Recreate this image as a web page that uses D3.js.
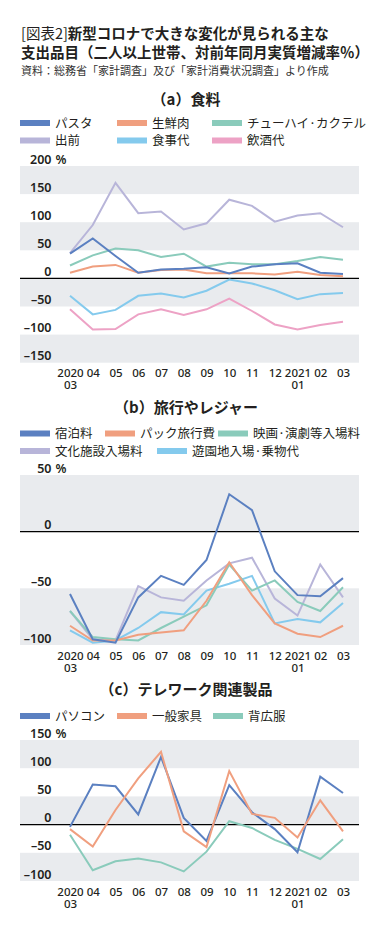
<!DOCTYPE html>
<html><head><meta charset="utf-8">
<script src="https://cdn.jsdelivr.net/npm/d3@7"></script>
<style>
html,body{margin:0;padding:0;background:#fff;}
svg{display:block;font-family:"Noto Sans CJK JP","Noto Sans",sans-serif;}
</style></head>
<body>
<script>
// ---- data ----
const months = ["2020\n03","04","05","06","07","08","09","10","11","12","2021\n01","02","03"];

// (a) 食料
const foodNames = ["パスタ","生鮮肉","チューハイ·カクテル","出前","食事代","飲酒代"];
const pasta    = [44, 71, 40, 10, 16, 17, 20, 9, 21, 25, 27, 10, 8];
const meat     = [10, 21, 24, 10, 15, 16, 9, 9, 9, 7, 12, 6, 4];
const chuhai   = [23, 41, 53, 50, 38, 44, 21, 28, 25, 25, 31, 38, 33];
const demae    = [45, 95, 170, 116, 119, 87, 98, 140, 129, 101, 112, 116, 91];
const shokuji  = [-31, -64, -56, -31, -27, -34, -22, -2, -9, -21, -37, -28, -26];
const inshu    = [-55, -91, -90, -64, -55, -65, -55, -36, -58, -82, -91, -83, -77];
const foodTicks = [200, 150, 100, 50, 0, -50, -100, -150];

// (b) 旅行やレジャー
const travelNames = ["宿泊料","パック旅行費","映画·演劇等入場料","文化施設入場料","遊園地入場·乗物代"];
const shukuhaku = [-55, -95, -98, -58, -39, -47, -25, 33, 19, -35, -56, -57, -41];
const pack      = [-83, -96, -96, -91, -89, -87, -61, -27, -56, -81, -90, -93, -83];
const eiga      = [-70, -93, -95, -96, -85, -75, -65, -29, -52, -43, -62, -70, -49];
const bunka     = [-70, -95, -96, -48, -58, -61, -43, -28, -23, -59, -74, -29, -58];
const yuenchi   = [-87, -98, -96, -85, -71, -73, -52, -46, -39, -81, -77, -80, -63];
const travelTicks = [50, 0, -50, -100];

// (c) テレワーク関連製品
const teleNames = ["パソコン","一般家具","背広服"];
const pc       = [-4, 71, 68, 18, 120, 12, -29, 70, 22, -8, -49, 85, 56];
const kagu     = [-8, -39, 26, 82, 129, -12, -40, 95, 19, 12, -23, 43, -12];
const sebiro   = [-18, -81, -65, -60, -67, -83, -48, 6, -6, -27, -43, -61, -26];
const teleTicks = [150, 100, 50, 0, -50, -100];

const colors = {blue:"#5b80c1", orange:"#f09f7f", green:"#8acbbb", purple:"#b8b5d9", lblue:"#84caed", pink:"#eda2c5"};

// ---- layout ----
const W = 378, H = 931;
const svg = d3.select("body").append("svg").attr("width", W).attr("height", H);

const t1 = svg.append("text").attr("x", 21).attr("y", 39).attr("font-size", 14.5).attr("fill", "#231f20");
t1.append("tspan").attr("font-weight", 400).text("[図表2]");
t1.append("tspan").attr("font-weight", 700).text("新型コロナで大きな変化が見られる主な");
svg.append("text").attr("x", 21).attr("y", 58).attr("font-size", 14.5).attr("font-weight", 700).attr("fill", "#231f20")
  .text("支出品目（二人以上世帯、対前年同月実質増減率％）");
svg.append("text").attr("x", 21).attr("y", 75).attr("font-size", 11).attr("fill", "#333")
  .text("資料：総務省「家計調査」及び「家計消費状況調査」より作成");

const x = d3.scalePoint().domain(months).range([70, 343]);

function panel(cfg) {
  const g = svg.append("g");
  g.append("text").attr("x", 186).attr("y", cfg.titleY).attr("text-anchor", "middle")
    .attr("font-size", 15).attr("font-weight", 700).attr("fill", "#231f20").text(cfg.title);
  // legend
  cfg.legend.forEach(l => {
    g.append("rect").attr("x", l.x).attr("y", l.y - 3).attr("width", 30).attr("height", 6).attr("fill", l.c);
    g.append("text").attr("x", l.x + 35).attr("y", l.y).attr("dy", "0.36em")
      .attr("font-size", 12.5).attr("fill", "#231f20").text(l.name);
  });
  const y = d3.scaleLinear().domain([cfg.ticks[cfg.ticks.length - 1], cfg.ticks[0]]).range([cfg.bottom, cfg.top]);
  // bands
  for (let i = 0; i < cfg.ticks.length - 1; i += 2) {
    g.append("rect").attr("x", 20).attr("width", 339)
      .attr("y", y(cfg.ticks[i])).attr("height", y(cfg.ticks[i + 1]) - y(cfg.ticks[i]))
      .attr("fill", "#e9ebee");
  }
  // y labels
  cfg.ticks.forEach((t, i) => {
    g.append("text").attr("x", 51.5).attr("y", y(t) - 2.5).attr("text-anchor", "end")
      .attr("font-family", "'Noto Sans',sans-serif").attr("font-size", 12.5).attr("font-weight", 600)
      .attr("fill", "#231f20").text(t < 0 ? "–" + Math.abs(t) : t);
    if (i === 0) g.append("text").attr("x", 55.5).attr("y", y(t) - 2.5)
      .attr("font-family", "'Noto Sans',sans-serif").attr("font-size", 12.5).attr("font-weight", 600)
      .attr("fill", "#231f20").text("%");
  });
  // zero line
  g.append("line").attr("x1", 20).attr("x2", 359).attr("y1", y(0)).attr("y2", y(0))
    .attr("stroke", "#000").attr("stroke-width", 1.3);
  // lines
  const line = d3.line().x((d, i) => x(months[i])).y(d => y(d));
  cfg.series.forEach(s => {
    g.append("path").datum(s.v).attr("d", line).attr("fill", "none")
      .attr("stroke", s.c).attr("stroke-width", 2).attr("stroke-linejoin", "miter");
  });
  // x axis labels
  const ax = g.append("g").attr("transform", `translate(0,${cfg.bottom})`)
    .call(d3.axisBottom(x).tickSize(0).tickFormat(""));
  ax.select(".domain").remove();
  ax.selectAll(".tick").each(function(d) {
    const parts = d.split("\n");
    parts.forEach((p, k) => d3.select(this).append("text").attr("text-anchor", "middle")
      .attr("font-family", "'Noto Sans',sans-serif").attr("font-size", 11.5).attr("font-weight", 500)
      .attr("fill", "#231f20").attr("x", 0).attr("y", 14.5 + k * 12).text(p));
  });
}

panel({
  title: "（a）食料", titleY: 105, top: 166, bottom: 362.7, ticks: foodTicks,
  legend: [
    {name: foodNames[0], c: colors.blue, x: 20, y: 123},
    {name: foodNames[1], c: colors.orange, x: 117, y: 123},
    {name: foodNames[2], c: colors.green, x: 212, y: 123},
    {name: foodNames[3], c: colors.purple, x: 20, y: 140.5},
    {name: foodNames[4], c: colors.lblue, x: 117, y: 140.5},
    {name: foodNames[5], c: colors.pink, x: 212, y: 140.5}
  ],
  series: [
    {v: demae, c: colors.purple}, {v: chuhai, c: colors.green}, {v: meat, c: colors.orange},
    {v: pasta, c: colors.blue}, {v: shokuji, c: colors.lblue}, {v: inshu, c: colors.pink}
  ]
});

panel({
  title: "（b）旅行やレジャー", titleY: 413, top: 475, bottom: 645, ticks: travelTicks,
  legend: [
    {name: travelNames[0], c: colors.blue, x: 20, y: 433.5},
    {name: travelNames[1], c: colors.orange, x: 105, y: 433.5},
    {name: travelNames[2], c: colors.green, x: 218, y: 433.5},
    {name: travelNames[3], c: colors.purple, x: 20, y: 451},
    {name: travelNames[4], c: colors.lblue, x: 157, y: 451}
  ],
  series: [
    {v: yuenchi, c: colors.lblue}, {v: bunka, c: colors.purple}, {v: eiga, c: colors.green},
    {v: pack, c: colors.orange}, {v: shukuhaku, c: colors.blue}
  ]
});

panel({
  title: "（c）テレワーク関連製品", titleY: 695, top: 740, bottom: 881, ticks: teleTicks,
  legend: [
    {name: teleNames[0], c: colors.blue, x: 20, y: 716},
    {name: teleNames[1], c: colors.orange, x: 117, y: 716},
    {name: teleNames[2], c: colors.green, x: 213, y: 716}
  ],
  series: [
    {v: sebiro, c: colors.green}, {v: pc, c: colors.blue}, {v: kagu, c: colors.orange}
  ]
});
</script>
</body></html>
